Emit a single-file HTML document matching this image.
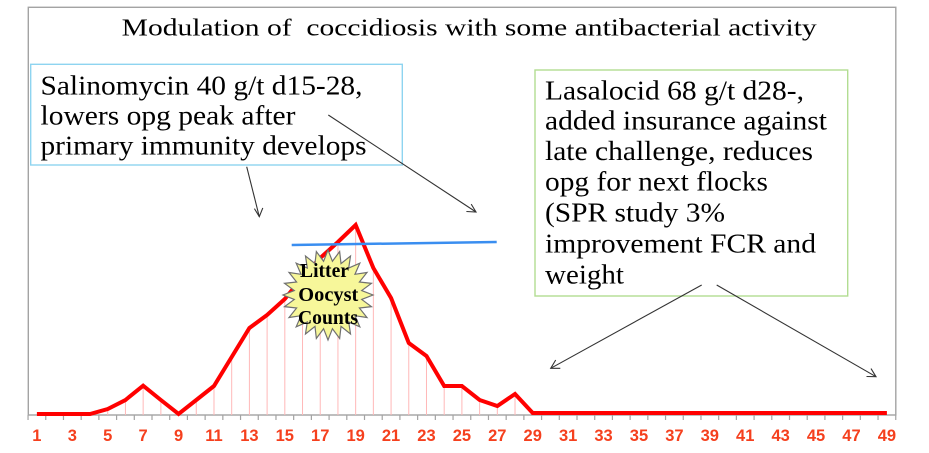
<!DOCTYPE html>
<html>
<head>
<meta charset="utf-8">
<style>
html,body{margin:0;padding:0;background:#fff;}
svg{display:block;}
text{white-space:pre;}
.serif{font-family:"Liberation Serif","Times New Roman",Times,serif;}
.sans{font-family:"Liberation Sans",Arial,sans-serif;}
</style>
</head>
<body>
<svg width="929" height="453" viewBox="0 0 929 453" xmlns="http://www.w3.org/2000/svg">
<rect x="0" y="0" width="929" height="453" fill="#ffffff"/>
<!-- frame -->
<rect x="28.3" y="7.3" width="867.5" height="407.7" fill="none" stroke="#a3a3a3" stroke-width="1.4"/>
<!-- ticks -->
<g stroke="#a3a3a3" stroke-width="1.2">
<path d="M28.05 415V420 M45.76 415V420 M63.47 415V420 M81.18 415V420 M98.88 415V420 M116.59 415V420 M134.30 415V420 M152.01 415V420 M169.72 415V420 M187.42 415V420 M205.13 415V420 M222.84 415V420 M240.55 415V420 M258.26 415V420 M275.97 415V420 M293.67 415V420 M311.38 415V420 M329.09 415V420 M346.80 415V420 M364.51 415V420 M382.22 415V420 M399.92 415V420 M417.63 415V420 M435.34 415V420 M453.05 415V420 M470.76 415V420 M488.47 415V420 M506.17 415V420 M523.88 415V420 M541.59 415V420 M559.30 415V420 M577.01 415V420 M594.72 415V420 M612.42 415V420 M630.13 415V420 M647.84 415V420 M665.55 415V420 M683.26 415V420 M700.97 415V420 M718.67 415V420 M736.38 415V420 M754.09 415V420 M771.80 415V420 M789.51 415V420 M807.22 415V420 M824.92 415V420 M842.63 415V420 M860.34 415V420 M878.05 415V420 M895.75 415V420"/>
</g>
<!-- drop lines -->
<g stroke="#ffb8b8" stroke-width="1">
<path d="M107.73 409V415 M125.44 400V415 M143.15 385.7V415 M160.86 400V415 M196.27 400V415 M213.98 386V415 M231.69 357V415 M249.40 328V415 M267.11 315V415 M284.82 299V415 M302.52 277V415 M320.23 258V415 M337.94 242V415 M355.65 225V415 M373.36 268V415 M391.07 298V415 M408.77 343V415 M426.48 356V415 M444.19 386V415 M461.90 386V415 M479.61 400V415 M497.32 406V415 M515.02 394V415"/>
</g>
<!-- red series -->
<polyline fill="none" stroke="#ff0000" stroke-width="4" stroke-linejoin="miter" points="36.90,414 54.61,414 72.32,414 90.02,414 107.73,409 125.44,400 143.15,385.7 160.86,400 178.57,414 196.27,400 213.98,386 231.69,357 249.40,328 267.11,315 284.82,299 302.52,277 320.23,258 337.94,242 355.65,225 373.36,268 391.07,298 408.77,343 426.48,356 444.19,386 461.90,386 479.61,400 497.32,406 515.02,394 532.73,413 886.90,413"/>
<!-- blue line -->
<line x1="291.7" y1="245" x2="496.7" y2="242" stroke="#3a8ef0" stroke-width="2.5"/>
<!-- starburst -->
<polygon fill="#f7f79a" stroke="#707070" stroke-width="1.2" points="328,250 332.44,261.29 339.65,251.53 341.01,263.59 350.5,256.03 348.70,268.03 359.82,263.18 354.97,274.30 366.97,272.5 359.41,281.99 371.47,283.35 361.71,290.56 373,295 361.71,299.44 371.47,306.65 359.41,308.01 366.97,317.5 354.97,315.70 359.82,326.82 348.70,321.97 350.5,333.97 341.01,326.41 339.65,338.47 332.44,328.71 328,340 323.56,328.71 316.35,338.47 314.99,326.41 305.5,333.97 307.30,321.97 296.18,326.82 301.03,315.70 289.03,317.5 296.59,308.01 284.53,306.65 294.29,299.44 283,295 294.29,290.56 284.53,283.35 296.59,281.99 289.03,272.5 301.03,274.30 296.18,263.18 307.30,268.03 305.5,256.03 314.99,263.59 316.35,251.53 323.56,261.29"/>
<g class="serif" font-weight="bold" font-size="20" fill="#000">
<text class="serif" x="300" y="277" textLength="49" lengthAdjust="spacingAndGlyphs">Litter</text>
<text class="serif" x="298.3" y="301" textLength="60" lengthAdjust="spacingAndGlyphs">Oocyst</text>
<text class="serif" x="298" y="324" textLength="60" lengthAdjust="spacingAndGlyphs">Counts</text>
</g>
<!-- title -->
<text class="serif" x="121.7" y="35.7" font-size="24" fill="#000" textLength="695" lengthAdjust="spacingAndGlyphs">Modulation of  coccidiosis with some antibacterial activity</text>
<!-- box 1 -->
<rect x="30.7" y="64.3" width="371.6" height="100.7" fill="#fff" stroke="#8ed4f0" stroke-width="1.4"/>
<g class="serif" font-size="27" fill="#000">
<text class="serif" x="40.5" y="94.3" textLength="322" lengthAdjust="spacingAndGlyphs">Salinomycin 40 g/t d15-28,</text>
<text class="serif" x="40.5" y="124.3" textLength="255" lengthAdjust="spacingAndGlyphs">lowers opg peak after</text>
<text class="serif" x="40.5" y="154.3" textLength="326" lengthAdjust="spacingAndGlyphs">primary immunity develops</text>
</g>
<!-- box 2 -->
<rect x="535" y="70" width="312.7" height="226" fill="#fff" stroke="#b2dd92" stroke-width="1.4"/>
<g class="serif" font-size="27" fill="#000">
<text class="serif" x="545" y="99.3" textLength="259" lengthAdjust="spacingAndGlyphs">Lasalocid 68 g/t d28-,</text>
<text class="serif" x="545" y="129.7" textLength="282" lengthAdjust="spacingAndGlyphs">added insurance against</text>
<text class="serif" x="545" y="160.2" textLength="268" lengthAdjust="spacingAndGlyphs">late challenge, reduces</text>
<text class="serif" x="545" y="190.7" textLength="223" lengthAdjust="spacingAndGlyphs">opg for next flocks</text>
<text class="serif" x="545" y="221.5" textLength="180" lengthAdjust="spacingAndGlyphs">(SPR study 3%</text>
<text class="serif" x="545" y="252.3" textLength="271" lengthAdjust="spacingAndGlyphs">improvement FCR and</text>
<text class="serif" x="545" y="283.3" textLength="79" lengthAdjust="spacingAndGlyphs">weight</text>
</g>
<!-- arrows -->
<g stroke="#333" stroke-width="1.1" fill="none">
<line x1="246.7" y1="166.7" x2="259.3" y2="216.7"/>
<polyline points="254.4,208.6 259.3,216.7 262.8,207.9"/>
<line x1="328.3" y1="115" x2="476" y2="212"/>
<polyline points="466.4,211.5 476,212 471.2,204.1"/>
<line x1="701.7" y1="285" x2="550.7" y2="368.3"/>
<polyline points="555.7,360.0 550.7,368.3 560.3,368.3"/>
<line x1="716.7" y1="285" x2="876" y2="376.7"/>
<polyline points="866.5,376.5 876,376.7 871.0,368.6"/>
</g>
<!-- x labels -->
<g class="sans" font-weight="bold" font-size="16.5" fill="#f5401e" text-anchor="middle">
<text x="36.90" y="440.8">1</text>
<text x="72.32" y="440.8">3</text>
<text x="107.73" y="440.8">5</text>
<text x="143.15" y="440.8">7</text>
<text x="178.57" y="440.8">9</text>
<text x="213.98" y="440.8">11</text>
<text x="249.40" y="440.8">13</text>
<text x="284.82" y="440.8">15</text>
<text x="320.23" y="440.8">17</text>
<text x="355.65" y="440.8">19</text>
<text x="391.07" y="440.8">21</text>
<text x="426.48" y="440.8">23</text>
<text x="461.90" y="440.8">25</text>
<text x="497.32" y="440.8">27</text>
<text x="532.73" y="440.8">29</text>
<text x="568.15" y="440.8">31</text>
<text x="603.57" y="440.8">33</text>
<text x="638.98" y="440.8">35</text>
<text x="674.40" y="440.8">37</text>
<text x="709.82" y="440.8">39</text>
<text x="745.23" y="440.8">41</text>
<text x="780.65" y="440.8">43</text>
<text x="816.07" y="440.8">45</text>
<text x="851.48" y="440.8">47</text>
<text x="886.90" y="440.8">49</text>
</g>
</svg>
</body>
</html>
